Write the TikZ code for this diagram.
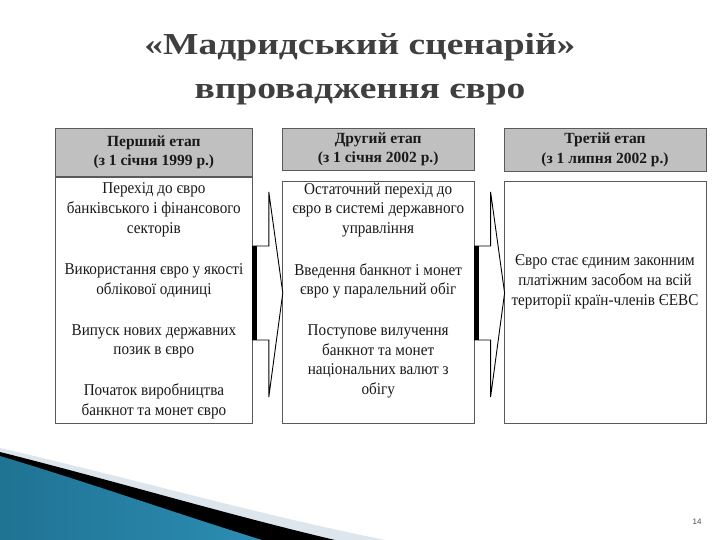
\documentclass[tikz,border=0pt]{standalone}
\usepackage{fontspec}
\setmainfont{Liberation Serif}
\setsansfont{Liberation Sans}
\newfontfamily\titlefont[FakeStretch=1.23]{Liberation Serif}
\newfontfamily\bodyfont[FakeStretch=0.92]{Liberation Serif}
\usetikzlibrary{positioning,calc}
\definecolor{TitleGrey}{HTML}{3F3F3F}
\definecolor{HeadGrey}{HTML}{C0C0C0}
\definecolor{EdgeGrey}{HTML}{5A5A5A}
\definecolor{SwooshLight}{HTML}{DCE6EC}
\definecolor{SwooshDark}{HTML}{1F7393}
\definecolor{SwooshMid}{HTML}{55B3D5}
\definecolor{SwooshEnd}{HTML}{2C8DB3}

\begin{document}
\begin{tikzpicture}[x=1pt,y=-1pt,
  every node/.style={inner sep=0pt},
  hdrbox/.style={draw=EdgeGrey,line width=0.8pt,fill=HeadGrey,align=center,
    font=\fontsize{15.5}{19.5}\selectfont\bfseries,text=black!90},
  bodybox/.style={draw=EdgeGrey,line width=0.8pt,fill=white},
  txt/.style={align=center,font=\bodyfont\fontsize{16.5}{19.6}\selectfont,text=black!90},
  titletxt/.style={align=center,font=\titlefont\fontsize{30.5}{44}\selectfont\bfseries,text=TitleGrey},
  pgnum/.style={font=\sffamily\fontsize{8}{8}\selectfont,text=black!70}]
\useasboundingbox[fill=white] (0,0) rectangle (720,540);

% swoosh in the lower left corner
\fill[SwooshLight] (0,448) .. controls (130,478) and (260,515) .. (385,540) -- (0,540) -- cycle;
\fill[black] (0,452) .. controls (115,481) and (225,514) .. (335,540) -- (0,540) -- cycle;
\shade[left color=SwooshDark,middle color=SwooshMid,right color=SwooshEnd]
  (0,456) .. controls (90,483) and (175,513) .. (262,540) -- (0,540) -- cycle;

% title
\node[titletxt] (title) at (360,69) {«Мадридський сценарій»\\впровадження євро};

% stage columns
\node[hdrbox,minimum width=197,minimum height=48,anchor=north west] (h1) at (55,128)
  {Перший етап\\(з 1 січня 1999 р.)};
\node[bodybox,minimum width=197,minimum height=246,below=0pt of h1] (b1) {};

\node[hdrbox,minimum width=192,minimum height=42,right=29pt of h1.north east,anchor=north west] (h2)
  {Другий етап\\(з 1 січня 2002 р.)};
\node[bodybox,minimum width=192,minimum height=242,below=10pt of h2] (b2) {};

\node[hdrbox,minimum width=202,minimum height=43,right=29pt of h2.north east,anchor=north west] (h3)
  {Третій етап\\(з 1 липня 2002 р.)};
\node[bodybox,minimum width=202,minimum height=242,below=9pt of h3] (b3) {};

% texts
\node[txt] (s11) at ($(b1.north)+(0,33)$) {Перехід до євро\\банківського і фінансового\\секторів};
\node[txt] (s12) at ($(b1.north)+(0,104)$) {Використання євро у якості\\облікової одиниці};
\node[txt] (s13) at ($(b1.north)+(0,164.5)$) {Випуск нових державних\\позик в євро};
\node[txt] (s14) at ($(b1.north)+(0,224.5)$) {Початок виробництва\\банкнот та монет євро};

\node[txt] (s21) at ($(b2.north)+(0,29)$) {Остаточний перехід до\\євро в системі державного\\управління};
\node[txt] (s22) at ($(b2.north)+(0,100)$) {Введення банкнот і монет\\євро у паралельний обіг};
\node[txt] (s23) at ($(b2.north)+(0,180.5)$) {Поступове вилучення\\банкнот та монет\\національних валют з\\обігу};

\node[txt] (s31) at ($(b3.north)+(0,101)$) {Євро стає єдиним законним\\платіжним засобом на всій\\території країн-членів ЄЕВС};

% block arrows between the stages
\coordinate (ar1) at (b1.east |- 0,293);
\coordinate (ar2) at (b2.east |- 0,293);
\foreach \a in {ar1,ar2} {
  \filldraw[fill=white,draw=black,line width=0.9pt,line join=miter]
    ($(\a)+(0,-47)$) -- ++(16,0) -- ++(0,-54) -- ++(14,101) -- ++(-14,104)
    -- ++(0,-57) -- ++(-16,0) -- cycle;
  \draw[line width=5pt] ($(\a)+(2,-47)$) -- ($(\a)+(2,47)$);
}

\node[pgnum] (pg) at (697,522) {14};
\end{tikzpicture}
\end{document}
